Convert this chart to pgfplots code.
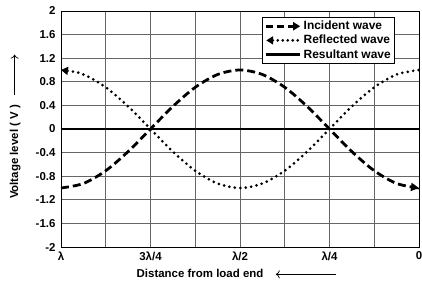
\documentclass[border=0pt]{standalone}
\usepackage{pgfplots}
\pgfplotsset{compat=1.18}
\usetikzlibrary{arrows.meta}
\usepackage{fontspec}
\setmainfont{Liberation Sans}
\begin{document}
\begin{tikzpicture}
\begin{axis}[
  name=ax,
  scale only axis,
  width=358bp, height=236bp,
  xmin=0, xmax=8, ymin=-2, ymax=2,
  xtick={0,1,2,3,4,5,6,7,8},
  xticklabels={λ,,3λ/4,,λ/2,,λ/4,,0},
  ytick={-2,-1.6,-1.2,-0.8,-0.4,0,0.4,0.8,1.2,1.6,2},
  yticklabels={-2,-1.6,-1.2,-0.8,-0.4,0,0.4,0.8,1.2,1.6,2},
  major tick length=0pt,
  grid=major,
  major grid style={black!60, line width=0.8pt},
  axis line style={black, line width=0.8pt},
  tick label style={font=\fontsize{11.5}{13}\selectfont\bfseries},
  yticklabel style={xshift=-2bp},
  xticklabel style={yshift=-1bp},
  label style={font=\fontsize{11.5}{13}\selectfont\bfseries},
  xlabel={Distance from load end\hspace{12bp}\tikz[baseline=-0.6ex]\draw[{To[length=4bp,width=8bp]}-, line width=0.7pt] (0,0)--(60bp,0);},
  ylabel={Voltage level ( V )\hspace{10bp}\tikz[baseline=-0.6ex]\draw[-{To[length=4bp,width=8bp]}, line width=0.7pt] (0,0)--(40bp,0);},
  xlabel style={at={(axis description cs:0.49,0)}, anchor=center, yshift=-27bp},
  ylabel style={at={(axis description cs:-0.103,0.51)}, anchor=south},
  legend style={at={(0.933,0.975)}, anchor=north east, draw=black, line width=0.6pt,
    font=\fontsize{12}{13}\selectfont\bfseries, row sep=0pt, inner sep=2pt,
    cells={anchor=west}},
  legend cell align=left,
]
\addplot[black, line width=2.8pt, dash pattern=on 8pt off 4pt, -{Triangle[length=8bp,width=8bp]}, smooth,
  legend image code/.code={\draw[black, line width=2.8pt, dash pattern=on 7pt off 4pt, -{Triangle[length=7bp,width=8bp]}] (0bp,0bp)--(34bp,0bp);}]
coordinates {
(0,-1)(0.5,-0.9239)(1,-0.7071)(1.5,-0.3827)(2,0)(2.5,0.3827)(3,0.7071)(3.5,0.9239)(4,1)
(4.5,0.9239)(5,0.7071)(5.5,0.3827)(6,0)(6.5,-0.3827)(7,-0.7071)(7.5,-0.9239)(8,-1)};
\addlegendentry{Incident wave}
\addplot[black, line width=3pt, dash pattern=on 0pt off 5.5pt, line cap=round, {Triangle[length=7bp,width=8bp]}-, smooth,
  legend image code/.code={\draw[black, line width=3pt, line cap=round, dash pattern=on 0pt off 5pt, {Triangle[length=7bp,width=8bp]}-] (0bp,0bp)--(34bp,0bp);}]
coordinates {
(0,1)(0.5,0.9239)(1,0.7071)(1.5,0.3827)(2,0)(2.5,-0.3827)(3,-0.7071)(3.5,-0.9239)(4,-1)
(4.5,-0.9239)(5,-0.7071)(5.5,-0.3827)(6,0)(6.5,0.3827)(7,0.7071)(7.5,0.9239)(8,1)};
\addlegendentry{Reflected wave}
\addplot[black, line width=2.8pt,
  legend image code/.code={\draw[black, line width=2.6pt] (0bp,0bp)--(34bp,0bp);}]
coordinates {(0,0)(8,0)};
\addlegendentry{Resultant wave}
\end{axis}
\pgfresetboundingbox
\path ([xshift=-61bp,yshift=-41bp]ax.south west) rectangle ([xshift=3bp,yshift=11bp]ax.north east);
\end{tikzpicture}
\end{document}
